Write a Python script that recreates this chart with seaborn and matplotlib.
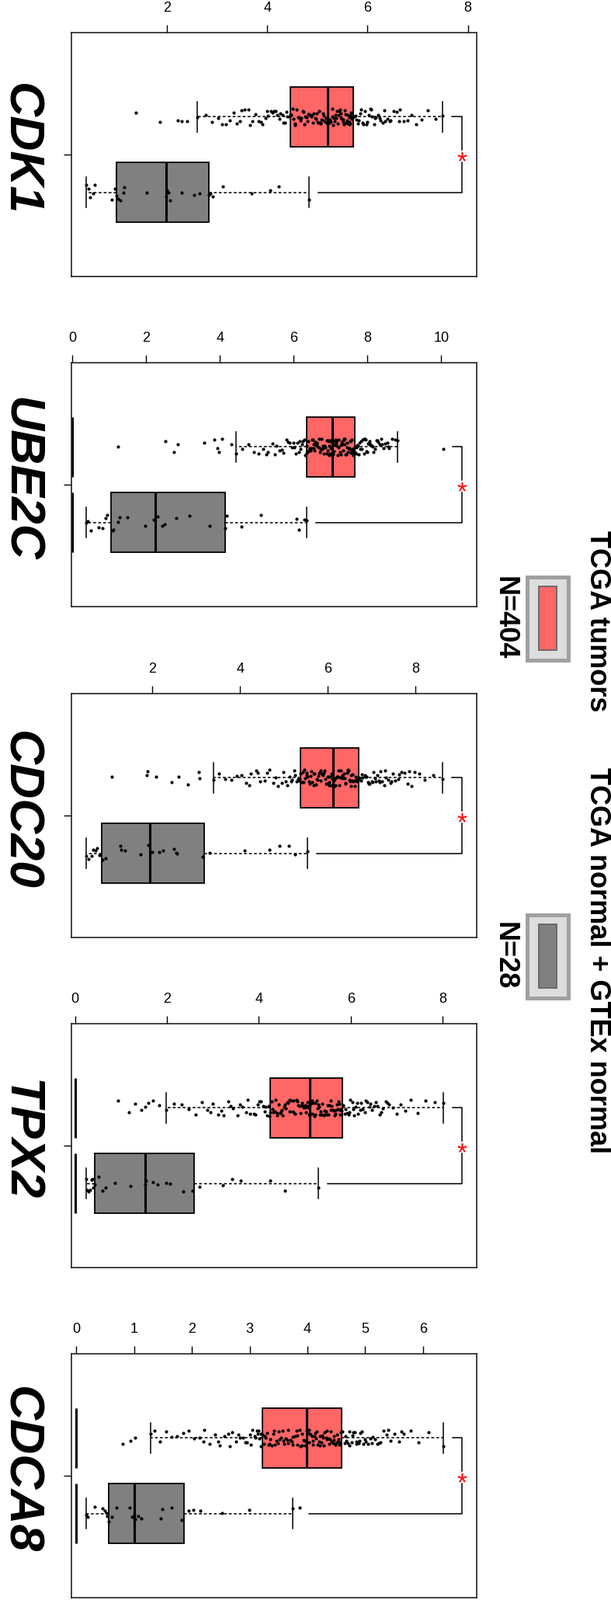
import numpy as np
import pandas as pd
import matplotlib
matplotlib.use("Agg")
import matplotlib.pyplot as plt
from matplotlib.patches import Rectangle
from matplotlib.ticker import MultipleLocator
from matplotlib.transforms import offset_copy
import seaborn as sns

# ---------------- data ----------------
genes = ["CDK1", "UBE2C", "CDC20", "TPX2", "CDCA8"]
groups = ["TCGA tumors", "TCGA normal + GTEx normal"]
group_n = ["N=404", "N=28"]
tick_steps = [2, 2, 2, 2, 1]
zero_level = 0.0

tumor_cdk1 = [1.39, 1.86, 2.22, 2.30, 2.41, 2.60, 2.78, 2.90, 3.02, 3.10, 3.18, 3.25, 3.33, 3.40, 3.48,
              3.55, 3.62, 3.70, 3.76, 3.83, 3.90, 3.96, 4.02, 4.08, 4.14, 4.20, 4.26, 4.32, 4.38, 4.44,
              3.45, 3.66, 3.88, 3.99, 4.11, 4.17, 4.24, 4.30, 4.35, 4.40,
              4.46, 4.48, 4.51, 4.53, 4.56, 4.58, 4.61, 4.63, 4.66, 4.68, 4.71, 4.73, 4.76, 4.78, 4.81,
              4.83, 4.86, 4.88, 4.91, 4.93, 4.96, 4.98, 5.01, 5.03, 5.06, 5.08, 5.11, 5.13, 5.16, 5.19,
              4.55, 4.65, 4.74, 4.80, 4.90, 4.97, 5.02, 5.07, 5.12, 5.17,
              5.21, 5.23, 5.25, 5.27, 5.29, 5.31, 5.33, 5.35, 5.37, 5.39, 5.41, 5.43, 5.45, 5.47, 5.49,
              5.51, 5.53, 5.55, 5.57, 5.59, 5.61, 5.63, 5.64, 5.65, 5.66, 5.67, 5.68, 5.69, 5.70, 5.71,
              5.24, 5.30, 5.36, 5.42, 5.46, 5.52, 5.56, 5.60, 5.64, 5.68,
              5.73, 5.76, 5.80, 5.83, 5.87, 5.90, 5.94, 5.98, 6.02, 6.05, 6.09, 6.13, 6.17, 6.21, 6.26,
              6.30, 6.35, 6.40, 6.46, 6.52, 6.58, 6.65, 6.72, 6.80, 6.88, 6.97, 7.08, 7.20, 7.36, 7.50,
              5.78, 5.85, 5.92, 6.00, 6.07, 6.15, 6.24, 6.33, 6.44, 6.62]
normal_cdk1 = [0.39, 0.44, 0.47, 0.53, 0.56, 0.91, 0.97, 1.00, 1.03, 1.07, 1.13, 1.15, 1.60, 1.98,
               2.00, 2.03, 2.07, 2.29, 2.55, 2.65, 2.83, 2.86, 2.91, 3.11, 3.69, 4.06, 4.23, 4.84]

tumor_ube2c = [1.24, 2.52, 2.76, 2.85, 3.57, 3.85, 3.92, 3.98, 4.05, 4.30, 4.44, 4.60, 4.78, 4.92, 5.05,
               5.18, 5.30, 5.42, 5.52, 5.62, 5.71, 5.80, 5.88, 5.95, 6.02, 6.09, 6.16, 6.22, 6.28, 6.35,
               5.25, 5.48, 5.67, 5.84, 5.99, 6.06, 6.13, 6.19, 6.25, 6.31,
               6.36, 6.39, 6.41, 6.44, 6.46, 6.49, 6.51, 6.53, 6.56, 6.58, 6.61, 6.63, 6.65, 6.68, 6.70,
               6.72, 6.75, 6.77, 6.79, 6.82, 6.84, 6.86, 6.89, 6.91, 6.93, 6.95, 6.97, 6.99, 7.01, 7.03,
               6.40, 6.47, 6.54, 6.62, 6.69, 6.76, 6.83, 6.90, 6.96, 7.00,
               7.05, 7.07, 7.09, 7.11, 7.13, 7.16, 7.18, 7.20, 7.22, 7.25, 7.27, 7.29, 7.31, 7.34, 7.36,
               7.38, 7.40, 7.43, 7.45, 7.47, 7.50, 7.52, 7.54, 7.56, 7.58, 7.60, 7.61, 7.62, 7.63, 7.64,
               7.10, 7.15, 7.21, 7.28, 7.33, 7.39, 7.44, 7.51, 7.57, 7.62,
               7.66, 7.69, 7.72, 7.75, 7.78, 7.81, 7.84, 7.87, 7.90, 7.93, 7.96, 7.99, 8.02, 8.05, 8.08,
               8.12, 8.16, 8.20, 8.24, 8.28, 8.33, 8.38, 8.43, 8.48, 8.53, 8.59, 8.66, 8.74, 8.81, 10.05,
               7.70, 7.77, 7.83, 7.91, 7.98, 8.06, 8.14, 8.26, 8.40, 8.56]
normal_ube2c = [0.37, 0.42, 0.49, 0.71, 0.81, 0.90, 0.95, 1.08, 1.12, 1.23, 1.28, 1.49, 1.98, 2.20,
                2.30, 2.44, 2.49, 2.81, 3.18, 3.71, 4.14, 4.18, 4.58, 5.11, 6.07, 6.13, 6.28, 6.34]

tumor_cdc20 = [1.08, 1.87, 1.89, 2.09, 2.44, 2.59, 2.81, 3.06, 3.08, 3.40, 3.52, 3.66, 3.80, 3.92, 4.03,
               4.14, 4.25, 4.36, 4.46, 4.56, 4.66, 4.76, 4.86, 4.95, 5.04, 5.12, 5.19, 5.26, 5.32, 5.36,
               4.20, 4.41, 4.61, 4.81, 4.99, 5.08, 5.16, 5.23, 5.29, 5.34,
               5.38, 5.41, 5.44, 5.46, 5.49, 5.52, 5.54, 5.57, 5.60, 5.62, 5.65, 5.68, 5.70, 5.73, 5.76,
               5.78, 5.81, 5.84, 5.86, 5.89, 5.92, 5.94, 5.97, 5.99, 6.01, 6.03, 6.05, 6.07, 6.09, 6.11,
               5.43, 5.51, 5.59, 5.67, 5.75, 5.83, 5.90, 5.96, 6.04, 6.10,
               6.13, 6.15, 6.17, 6.19, 6.21, 6.23, 6.25, 6.27, 6.29, 6.31, 6.33, 6.35, 6.37, 6.39, 6.41,
               6.43, 6.45, 6.47, 6.49, 6.51, 6.53, 6.55, 6.57, 6.59, 6.61, 6.63, 6.65, 6.67, 6.69, 6.70,
               6.16, 6.22, 6.28, 6.34, 6.40, 6.46, 6.52, 6.58, 6.64, 6.68,
               6.72, 6.76, 6.80, 6.84, 6.88, 6.92, 6.96, 7.00, 7.04, 7.08, 7.12, 7.16, 7.20, 7.24, 7.28,
               7.33, 7.38, 7.43, 7.48, 7.54, 7.60, 7.67, 7.74, 7.82, 7.90, 7.98, 8.08, 8.20, 8.40, 8.62,
               6.78, 6.86, 6.94, 7.02, 7.10, 7.18, 7.30, 7.45, 7.63, 7.86]
normal_cdc20 = [0.49, 0.55, 0.61, 0.65, 0.70, 0.74, 0.80, 0.87, 0.93, 1.27, 1.29, 1.38, 1.73, 1.90,
                2.00, 2.15, 2.24, 2.50, 2.55, 2.57, 3.15, 3.30, 4.11, 4.66, 4.89, 5.11, 5.26, 5.53]

tumor_tpx2 = [0.94, 1.17, 1.31, 1.45, 1.52, 1.60, 1.69, 1.83, 1.99, 2.15, 2.32, 2.48, 2.62, 2.76, 2.88,
              3.00, 3.12, 3.23, 3.34, 3.44, 3.54, 3.63, 3.72, 3.81, 3.89, 3.97, 4.05, 4.12, 4.18, 4.23,
              2.95, 3.18, 3.39, 3.58, 3.76, 3.93, 4.01, 4.09, 4.15, 4.21,
              4.25, 4.28, 4.31, 4.34, 4.37, 4.40, 4.43, 4.46, 4.49, 4.52, 4.55, 4.58, 4.61, 4.64, 4.67,
              4.70, 4.73, 4.76, 4.79, 4.82, 4.85, 4.88, 4.91, 4.94, 4.97, 5.00, 5.03, 5.05, 5.07, 5.09,
              4.30, 4.39, 4.48, 4.57, 4.66, 4.75, 4.84, 4.93, 5.01, 5.06,
              5.11, 5.13, 5.16, 5.18, 5.21, 5.23, 5.26, 5.28, 5.31, 5.33, 5.36, 5.38, 5.41, 5.43, 5.46,
              5.48, 5.51, 5.53, 5.56, 5.58, 5.61, 5.63, 5.66, 5.68, 5.71, 5.73, 5.75, 5.77, 5.79, 5.80,
              5.15, 5.22, 5.29, 5.35, 5.42, 5.50, 5.57, 5.64, 5.70, 5.76,
              5.83, 5.87, 5.91, 5.95, 5.99, 6.03, 6.07, 6.11, 6.15, 6.20, 6.25, 6.30, 6.35, 6.40, 6.45,
              6.51, 6.57, 6.63, 6.69, 6.76, 6.83, 6.91, 6.99, 7.08, 7.18, 7.30, 7.45, 7.62, 7.82, 8.01,
              5.89, 5.97, 6.05, 6.13, 6.22, 6.33, 6.43, 6.54, 6.66, 6.80]
normal_tpx2 = [0.24, 0.26, 0.30, 0.33, 0.36, 0.38, 0.40, 0.43, 0.51, 0.59, 0.67, 0.86, 1.20, 1.52,
               1.54, 1.69, 1.80, 1.98, 2.07, 2.36, 2.55, 2.70, 3.22, 3.42, 3.61, 4.24, 4.56, 5.29]

tumor_cdca8 = [0.80, 0.94, 1.02, 1.28, 1.36, 1.45, 1.55, 1.65, 1.75, 1.85, 1.95, 2.04, 2.13, 2.22, 2.31,
               2.40, 2.48, 2.56, 2.63, 2.70, 2.77, 2.83, 2.89, 2.95, 3.00, 3.05, 3.10, 3.14, 3.17, 3.20,
               2.20, 2.45, 2.66, 2.80, 2.92, 3.02, 3.08, 3.12, 3.16, 3.19,
               3.22, 3.25, 3.27, 3.30, 3.33, 3.35, 3.38, 3.41, 3.43, 3.46, 3.49, 3.51, 3.54, 3.57, 3.59,
               3.62, 3.65, 3.67, 3.70, 3.73, 3.75, 3.78, 3.81, 3.83, 3.86, 3.88, 3.91, 3.93, 3.95, 3.98,
               3.26, 3.34, 3.42, 3.50, 3.58, 3.66, 3.74, 3.82, 3.90, 3.96,
               4.00, 4.02, 4.04, 4.06, 4.08, 4.10, 4.12, 4.14, 4.16, 4.18, 4.20, 4.22, 4.24, 4.26, 4.28,
               4.30, 4.32, 4.34, 4.36, 4.38, 4.40, 4.42, 4.44, 4.46, 4.48, 4.50, 4.52, 4.54, 4.56, 4.58,
               4.03, 4.09, 4.15, 4.21, 4.27, 4.33, 4.39, 4.45, 4.51, 4.55,
               4.61, 4.64, 4.67, 4.70, 4.73, 4.76, 4.79, 4.82, 4.85, 4.88, 4.91, 4.94, 4.97, 5.01, 5.05,
               5.09, 5.13, 5.17, 5.21, 5.26, 5.31, 5.37, 5.43, 5.50, 5.58, 5.67, 5.78, 5.92, 6.10, 6.35,
               4.66, 4.72, 4.78, 4.84, 4.90, 4.99, 5.11, 5.24, 5.40, 5.62]
normal_cdca8 = [0.17, 0.20, 0.32, 0.45, 0.50, 0.52, 0.54, 0.56, 0.62, 0.69, 0.92, 0.97, 0.99, 1.00,
                1.02, 1.07, 1.12, 1.46, 1.49, 1.65, 1.83, 1.95, 2.02, 2.14, 2.52, 2.99, 3.74, 3.86]

tumor_values = [tumor_cdk1, tumor_ube2c, tumor_cdc20, tumor_tpx2, tumor_cdca8]
normal_values = [normal_cdk1, normal_ube2c, normal_cdc20, normal_tpx2, normal_cdca8]

# ---------------- styling / layout ----------------
TUMOR_COLOR = "#FF6666"
NORMAL_COLOR = "#808080"
palette = {groups[0]: TUMOR_COLOR, groups[1]: NORMAL_COLOR}

W, H = 787, 2060
PANEL_TOPS = [42, 467, 893, 1318, 1743]
PANEL_H = 314
LEFT, RIGHT = 91.5, 614
YLIM = (2.115, -1.115)

fig = plt.figure(figsize=(W / 100, H / 100), dpi=100)
plt.rcParams["font.family"] = ["Liberation Sans", "DejaVu Sans"]

for i, gene in enumerate(genes):
    tum = tumor_values[i]
    nor = normal_values[i]
    df = pd.DataFrame({
        "group": [groups[0]] * len(tum) + [groups[1]] * len(nor),
        "value": list(tum) + list(nor),
    })
    top = PANEL_TOPS[i]
    ax = fig.add_axes([LEFT / W, 1 - (top + PANEL_H) / H, (RIGHT - LEFT) / W, PANEL_H / H])

    sns.boxplot(data=df, x="value", y="group", hue="group", order=groups, hue_order=groups,
                palette=palette, saturation=1, width=0.8, showfliers=False,
                linecolor="black", linewidth=1.3, legend=False, ax=ax,
                whiskerprops={"linestyle": (0, (2.4, 1.8)), "linewidth": 1.1},
                capprops={"linestyle": "-", "linewidth": 1.1},
                medianprops={"linewidth": 2.2}, capwidths=0.4)
    sns.stripplot(data=df, x="value", y="group", order=groups, color="black",
                  size=3.0, jitter=0.11, linewidth=0, ax=ax, zorder=3)

    # thick reference bars at zero
    ax.vlines([zero_level, zero_level], [-0.4, 0.6], [0.4, 1.4], colors="black",
              linewidth=2.2, zorder=2)

    mx = max(max(tum), max(nor))
    mn = min(min(tum), min(nor))
    bx = 1.05 * mx
    pad = 0.04 * (bx - mn)
    x0, x1 = mn - pad, bx + pad
    ax.set_xlim(x0, x1)
    ax.set_ylim(*YLIM)

    d = (x1 - x0) * 12 / (RIGHT - LEFT)
    ax.plot([max(tum) + d, bx, bx], [0, 0, 0.5 - 0.065], color="black", lw=1.1)
    ax.plot([max(nor) + d, bx, bx], [1, 1, 0.5 + 0.1], color="black", lw=1.1)
    fs_star = 24
    tr = offset_copy(ax.transData, fig=fig, x=0, y=-0.58 * fs_star, units="points")
    ax.text(bx, 0.5, "*", color="red", ha="center", va="baseline",
            fontsize=fs_star, transform=tr)

    ax.xaxis.tick_top()
    ax.xaxis.set_major_locator(MultipleLocator(tick_steps[i]))
    ax.xaxis.set_major_formatter(matplotlib.ticker.FormatStrFormatter("%d"))
    ax.set_yticks([0.5])
    ax.set_yticklabels([""])
    ax.set_xlabel("")
    ax.set_ylabel("")
    ax.tick_params(axis="x", length=7.2, width=1, pad=9.5, labelsize=13, colors="black")
    ax.tick_params(axis="y", length=7.2, width=1)
    for sp in ax.spines.values():
        sp.set_linewidth(1.2)
        sp.set_color("#222222")
        sp.set_visible(True)

    yc = top + PANEL_H / 2 - 7
    fig.text(26 / W, 1 - yc / H, gene, rotation=-90, fontsize=45, fontweight="bold",
             fontstyle="italic", ha="center", va="center")

# ---------------- legend (rotated) ----------------
ov = fig.add_axes([0, 0, 1, 1], zorder=-1)
ov.set_xlim(0, W)
ov.set_ylim(H, 0)
ov.axis("off")
legend_centers = [796, 1231]
legend_text_centers = [800, 1237]
for yc, ytc, grp, n in zip(legend_centers, legend_text_centers, groups, group_n):
    ov.add_patch(Rectangle((678.5, yc - 53.5), 53, 107, facecolor="#DDDDDD",
                           edgecolor="#A0A0A0", linewidth=3.6))
    ov.add_patch(Rectangle((694, yc - 41), 23, 82, facecolor=palette[grp],
                           edgecolor="#6A6A6A", linewidth=1.4))
    ov.text(770, ytc, grp, rotation=-90, fontsize=26, fontweight="bold",
            ha="center", va="center")
    ov.text(650, yc, n, rotation=-90, fontsize=26, fontweight="bold", ha="center", va="center")

fig.savefig("out.png", dpi=100)
